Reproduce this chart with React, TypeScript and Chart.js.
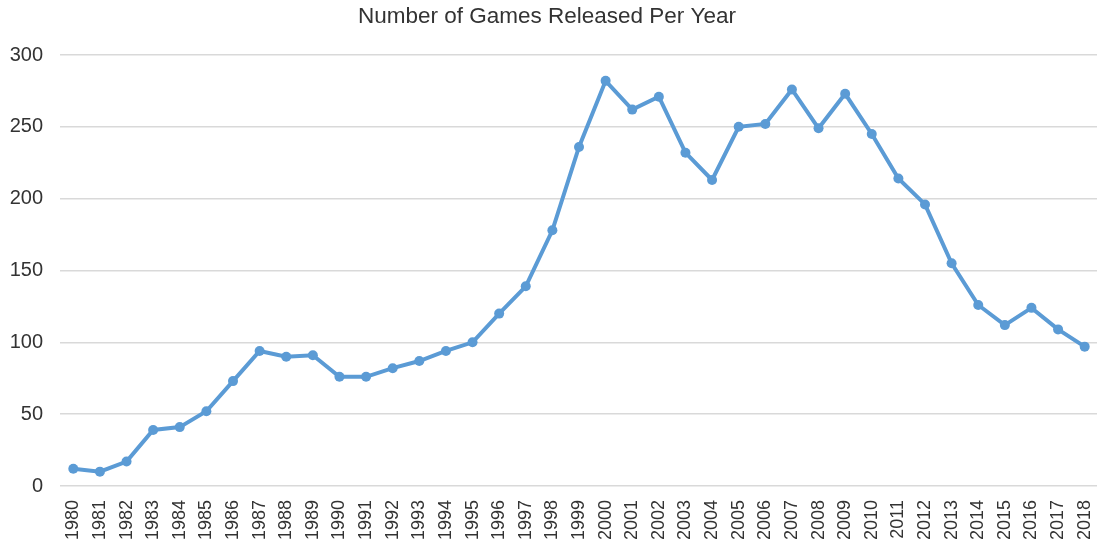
import React, { useEffect, useRef } from "react";
import { Chart, registerables } from "chart.js";

Chart.register(...registerables);

const years = [
  "1980","1981","1982","1983","1984","1985","1986","1987","1988","1989",
  "1990","1991","1992","1993","1994","1995","1996","1997","1998","1999",
  "2000","2001","2002","2003","2004","2005","2006","2007","2008","2009",
  "2010","2011","2012","2013","2014","2015","2016","2017","2018",
];

const gamesReleased = [
  12, 10, 17, 39, 41, 52, 73, 94, 90, 91,
  76, 76, 82, 87, 94, 100, 120, 139, 178, 236,
  282, 262, 271, 232, 213, 250, 252, 276, 249, 273,
  245, 214, 196, 155, 126, 112, 124, 109, 97,
];

const chartTitle = "Number of Games Released Per Year";

const FONT = "'Liberation Sans', Arial, sans-serif";

export default function App() {
  const ref = useRef<HTMLCanvasElement | null>(null);

  useEffect(() => {
    if (!ref.current) return;
    const chart = new Chart(ref.current, {
      type: "line",
      data: {
        labels: years,
        datasets: [
          {
            data: gamesReleased,
            borderColor: "#5B9BD5",
            backgroundColor: "#5B9BD5",
            borderWidth: 4,
            pointRadius: 5,
            pointBorderWidth: 0,
            tension: 0,
          },
        ],
      },
      options: {
        responsive: true,
        maintainAspectRatio: false,
        animation: false,
        layout: { padding: { top: 0, left: -9, right: 0, bottom: 0 } },
        plugins: {
          legend: { display: false },
          tooltip: { enabled: false },
          title: {
            display: true,
            text: chartTitle,
            color: "#333333",
            font: { family: FONT, size: 22.5, weight: "normal" },
            padding: { top: 3, bottom: 25 },
          },
        },
        scales: {
          x: {
            offset: true,
            grid: { display: false, drawTicks: false },
            border: { display: false },
            ticks: {
              color: "#333333",
              font: { family: FONT, size: 18 },
              minRotation: 90,
              maxRotation: 90,
              autoSkip: false,
              padding: 14,
            },
            afterFit: (s: any) => {
              s.height = 61;
              s.paddingLeft = 0;
              s.paddingRight = 0;
            },
          },
          y: {
            min: 0,
            max: 300,
            grid: { color: "#D9D9D9", lineWidth: 1.5, drawTicks: false },
            border: { display: false },
            ticks: {
              stepSize: 50,
              color: "#333333",
              font: { family: FONT, size: 20 },
              padding: 17,
            },
            afterFit: (s: any) => {
              s.width = 69;
              s.paddingTop = 0;
              s.paddingBottom = 0;
            },
          },
        },
      },
    });
    return () => chart.destroy();
  }, []);

  return (
    <div style={{ position: "absolute", left: 0, top: 0, width: 1097, height: 547, overflow: "hidden", background: "#fff" }}>
      <div style={{ position: "absolute", left: 0, top: 0, width: 1103, height: 547 }}>
        <canvas ref={ref} />
      </div>
    </div>
  );
}
